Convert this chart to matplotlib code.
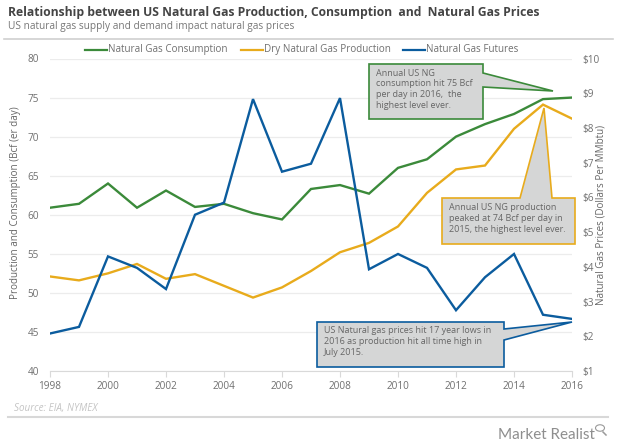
#!/usr/bin/env python3
""" Relationship between US natural gas production, consumption and prices """

import matplotlib
matplotlib.use('Agg')
import matplotlib.pyplot as plt
from matplotlib.patches import Polygon, Circle
from matplotlib.lines import Line2D

years = list(range(1998, 2017))
consumption = [60.9, 61.4, 64.0, 60.9, 63.1, 61.0, 61.4, 60.2, 59.4, 63.3,
               63.8, 62.7, 66.0, 67.1, 70.0, 71.6, 72.9, 74.8, 75.0]
production = [52.1, 51.6, 52.5, 53.7, 51.8, 52.4, 50.9, 49.4, 50.7, 52.8,
              55.2, 56.4, 58.5, 62.8, 65.8, 66.3, 71.0, 74.1, 72.3]
futures = [2.08, 2.27, 4.30, 3.97, 3.36, 5.50, 5.85, 8.83, 6.74, 6.97,
           8.86, 3.93, 4.37, 3.97, 2.75, 3.70, 4.37, 2.62, 2.50]

left_ticks = [40, 45, 50, 55, 60, 65, 70, 75, 80]
right_ticks = [1, 2, 3, 4, 5, 6, 7, 8, 9, 10]
right_labels = ['$%d' % v for v in right_ticks]
x_ticks = list(range(1998, 2017, 2))

GREEN = '#3b8a3a'
ORANGE = '#e8ab1c'
BLUE = '#0b5c9e'
TEXT = '#707070'
W, H = 620, 446
FONT = 'Open Sans'


def px_x(x):
    return x / W


def px_y(y):
    return 1 - y / H


def callout(fig, box, tip_points, color, lines, text_xy):
    """ Grey box with a pointer, all given in picture pixels """
    pts = [(px_x(x), px_y(y)) for x, y in box + tip_points]
    fig.add_artist(Polygon(pts, closed=True, transform=fig.transFigure,
                           facecolor='#d5d6d6', edgecolor=color, lw=1.2,
                           joinstyle='miter', zorder=5))
    fig.text(px_x(text_xy[0]), px_y(text_xy[1]), '\n'.join(lines), fontsize=6.5,
             color='#666666', family=FONT, va='top', ha='left',
             linespacing=1.28, zorder=6)


def main():
    plt.rcParams['font.family'] = FONT
    fig = plt.figure(figsize=(W / 100, H / 100), dpi=100, facecolor='white')
    ax = fig.add_axes([px_x(50), px_y(371), (572 - 50) / W, (371 - 58.5) / H])

    ax.plot(years, consumption, color=GREEN, lw=1.7, solid_joinstyle='miter')
    ax.plot(years, production, color=ORANGE, lw=1.7, solid_joinstyle='miter')
    ax.set_xlim(1998, 2016)
    ax.set_ylim(40, 80)
    ax.set_yticks(left_ticks)
    ax.set_xticks(x_ticks)
    ax.grid(axis='y', color='#ececec', lw=0.9)
    ax.set_axisbelow(True)
    for side in ('top', 'left', 'right'):
        ax.spines[side].set_visible(False)
    ax.spines['bottom'].set_color('#d9d9d9')
    ax.tick_params(axis='x', length=4, color='#d9d9d9', labelsize=7.2,
                   labelcolor=TEXT, pad=3.5)
    ax.tick_params(axis='y', length=0, labelsize=7.2, labelcolor=TEXT, pad=8)

    ax2 = ax.twinx()
    ax2.plot(years, futures, color=BLUE, lw=1.7, solid_joinstyle='miter')
    ax2.set_ylim(1, 10)
    ax2.set_yticks(right_ticks)
    ax2.set_yticklabels(right_labels)
    for side in ('top', 'left', 'right', 'bottom'):
        ax2.spines[side].set_visible(False)
    ax2.tick_params(axis='y', length=0, labelsize=7.2, labelcolor=TEXT, pad=7.5)

    fig.text(px_x(15.7), px_y(203), 'Production and Consumption (Bcf (er day)',
             fontsize=7.1, color='#666666', rotation=90, ha='center', va='center')
    fig.text(px_x(601), px_y(215), 'Natural Gas Prices (Dollars Per MMbtu)',
             fontsize=7.1, color='#666666', rotation=90, ha='center', va='center')

    # header and footer
    fig.text(px_x(8), px_y(12.5), 'Relationship between US Natural Gas Production, '
             'Consumption  and  Natural Gas Prices', fontsize=8.75,
             fontweight='bold', color='#444444', va='center')
    fig.text(px_x(8), px_y(27), 'US natural gas supply and demand impact natural gas prices',
             fontsize=7.3, color='#777777', va='center')
    fig.add_artist(Line2D([px_x(4), px_x(613)], [px_y(39), px_y(39)],
                          color='#d0d0d0', lw=1.2))
    fig.add_artist(Line2D([px_x(8), px_x(608)], [px_y(416.7), px_y(416.7)],
                          color='#d8d8d8', lw=1.5))
    fig.text(px_x(14), px_y(408), 'Source: EIA, NYMEX', fontsize=7.1,
             style='italic', color='#c4c4c4', va='center')
    fig.text(px_x(595), px_y(435), 'Market Realist', fontsize=11, family='Lato',
             color='#8e8e8e', ha='right', va='center')
    fig.add_artist(Circle((px_x(600), px_y(428)), 4.5 / W, transform=fig.transFigure,
                          fill=False, ec='#9a9a9a', lw=0.8))
    fig.add_artist(Line2D([px_x(603), px_x(606)], [px_y(432), px_y(435)],
                          color='#9a9a9a', lw=1.1))

    # legend, keys and labels placed by hand as in the original
    for x0, x1, color, tx, name in (
            (85, 107, GREEN, 108, 'Natural Gas Consumption'),
            (241, 263, ORANGE, 264, 'Dry Natural Gas Production'),
            (403, 425, BLUE, 426, 'Natural Gas Futures')):
        fig.add_artist(Line2D([px_x(x0), px_x(x1)], [px_y(50), px_y(50)],
                              color=color, lw=1.6))
        fig.text(px_x(tx), px_y(49.5), name, fontsize=7.1, color=TEXT, va='center')

    callout(fig, [(369, 64), (369, 119), (483, 119), (483, 87)],
            [(553, 91), (483, 73), (483, 64)], GREEN,
            ['Annual US NG', 'consumption hit 75 Bcf', 'per day in 2016,  the',
             'highest level ever.'], (376.5, 68.5))
    callout(fig, [(442, 198), (442, 244), (575, 244), (575, 198)],
            [(552, 198), (544, 108), (520, 198)], ORANGE,
            ['Annual US NG production', 'peaked at 74 Bcf per day in',
             '2015, the highest level ever.'], (449, 203))
    callout(fig, [(317, 322), (317, 367), (504, 367), (504, 340)],
            [(572, 322), (504, 329), (504, 322)], BLUE,
            ['US Natural gas prices hit 17 year lows in',
             '2016 as production hit all time high in', 'July 2015.'], (324, 326))

    plt.savefig('out.png', dpi=100)
    plt.close()


if __name__ == "__main__":
    main()
